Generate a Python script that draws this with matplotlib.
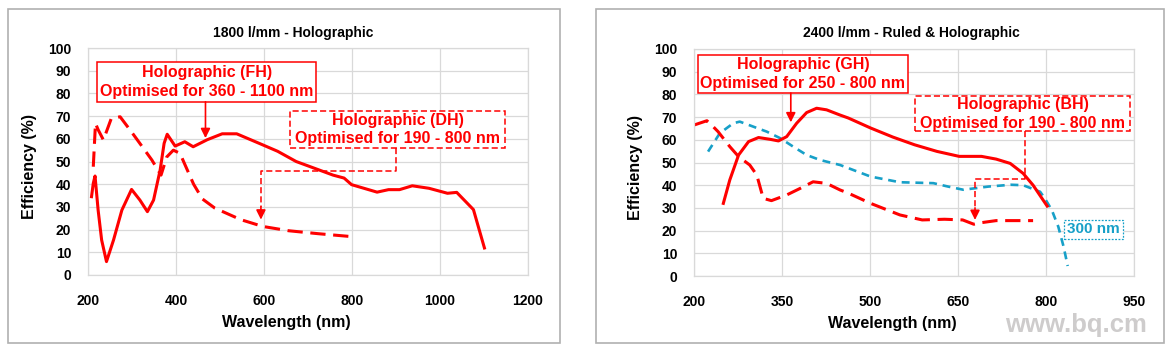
import numpy as np
import matplotlib
matplotlib.use('Agg')
import matplotlib.pyplot as plt
from matplotlib.patches import Rectangle

plt.rcParams['font.family'] = ['Liberation Sans', 'DejaVu Sans']
plt.rcParams['font.weight'] = 'bold'

# 1800 l/mm - Holographic
fhWl = [208, 212, 216, 223, 231, 242, 258, 277, 299, 318, 335, 349, 364, 373, 380, 398, 420, 439,
        471, 505, 538, 589, 631, 673, 715, 757, 782, 799, 857, 883, 908, 937, 975, 1017, 1038, 1076, 1101]
fhEff = [34.5, 40.4, 43.6, 28.6, 15.4, 5.9, 15.4, 28.6, 37.7, 33, 27.9, 33, 46.3, 58, 62, 56.8, 58.7, 56.5,
         59.6, 62.2, 62.2, 58, 54.5, 50, 47, 44, 42.7, 39.8, 36.5, 37.6, 37.6, 39.3, 38.2, 36, 36.4, 28.8, 11.9]
dhWl = [212, 217, 223, 235, 253, 273, 299, 326, 345, 366, 379, 394, 409, 424, 440, 460, 488, 547, 597, 656, 723, 794]
dhEff = [47.7, 66.8, 64, 59.5, 69, 69.7, 63, 55.8, 50.7, 44, 52, 55, 53.6, 47, 40, 33.5, 29.5, 24.4, 21.4, 19.5, 18.2, 17]

# 2400 l/mm - Ruled & Holographic
ghWl = [250, 261, 276, 293, 310, 330, 344, 358, 375, 392, 409, 426, 449, 463, 501, 539, 576, 614, 652, 690,
        715, 739, 761, 778, 802]
ghEff = [32, 42.3, 53.3, 59.2, 61, 60.2, 59.5, 61.4, 67.3, 72, 73.9, 73.2, 70.9, 69.6, 65.2, 61.2, 57.8, 54.9,
         52.7, 52.7, 51.5, 49.6, 45.2, 40, 30.8]
bhWl = [200, 222, 230, 241, 261, 276, 295, 307, 318, 332, 358, 381, 403, 426, 449, 463, 501, 551, 589, 627,
        658, 677, 690, 715, 778]
bhEff = [66.5, 68.4, 66.5, 63.6, 57, 52.6, 48.9, 44.5, 34.2, 33.2, 35.7, 38.6, 41.5, 40.8, 37.9, 36.5, 32, 26.9,
         24.7, 25, 24.7, 22.8, 23.5, 24.4, 24.4]
ruledWl = [224, 244, 267, 278, 301, 324, 347, 369, 392, 415, 449, 501, 551, 608, 633, 659, 702, 740, 761, 790,
           798, 810, 821, 830, 837]
ruledEff = [54.8, 62.9, 67.3, 68, 65.8, 63.6, 60.7, 57, 53.3, 51.1, 48.9, 43.8, 41.3, 40.9, 39.4, 38, 39.4,
            40.2, 40, 37.1, 34.2, 29, 21.7, 12.9, 4.4]

yTicks = list(range(0, 101, 10))
xTicksLeft = [200, 400, 600, 800, 1000, 1200]
xTicksRight = [200, 350, 500, 650, 800, 950]

RED = '#ff0000'
BLUE = '#17a0c8'
GRID = '#d9d9d9'

fig = plt.figure(figsize=(11.69, 3.48), dpi=100)

# panel frames
for x0, x1 in [(8, 560), (596, 1164)]:
    fig.patches.append(Rectangle((x0 / 1169, 5 / 348), (x1 - x0) / 1169, (341 - 7) / 348,
                                 transform=fig.transFigure, fill=False, ec='#b0b0b0', lw=1.2))

axL = fig.add_axes([88 / 1169, 1 - 275 / 348, 440 / 1169, 227 / 348])
axR = fig.add_axes([694 / 1169, 1 - 276 / 348, 440 / 1169, 227 / 348])


def styleAxes(ax, xticks):
    ax.set_xlim(xticks[0], xticks[-1])
    ax.set_ylim(0, 100)
    ax.set_xticks(xticks)
    ax.set_yticks(yTicks)
    ax.grid(True, color=GRID, lw=0.9)
    ax.set_axisbelow(True)
    for s in ax.spines.values():
        s.set_color(GRID)
        s.set_linewidth(0.9)
    ax.tick_params(length=0, labelsize=10)
    ax.tick_params(axis='y', pad=12)
    ax.tick_params(axis='x', pad=14)
    for lab in ax.get_xticklabels() + ax.get_yticklabels():
        lab.set_fontweight('bold')
    ax.set_xlabel('Wavelength (nm)', fontsize=11.5, fontweight='bold')
    ax.set_ylabel('Efficiency (%)', fontsize=11.5, fontweight='bold')
    ax.xaxis.set_label_coords(0.45, -0.178)
    ax.yaxis.set_label_coords(-0.117, 0.48)


def labelBox(ax, x0, x1, y0, y1, lines, ys, dashed, color=RED, size=11.5):
    ls = (0, (4, 2)) if dashed else '-'
    ax.add_patch(Rectangle((x0, y0), x1 - x0, y1 - y0, fc='white', ec=color, lw=1.1, ls=ls, zorder=5))
    for txt, y in zip(lines, ys):
        ax.text((x0 + x1) / 2, y, txt, color=color, fontsize=size, fontweight='bold',
                ha='center', va='center', zorder=6)


def arrowHead(ax, x, yFrom, yTo):
    ax.annotate('', xy=(x, yTo), xytext=(x, yFrom),
                arrowprops=dict(arrowstyle='-|>', color=RED, lw=1.2, mutation_scale=14,
                                shrinkA=0, shrinkB=0), zorder=6)


# left chart
styleAxes(axL, xTicksLeft)
axL.plot(fhWl, fhEff, color=RED, lw=2.2)
axL.plot(dhWl, dhEff, color=RED, lw=2.2, dashes=(5, 2.5))
labelBox(axL, 220, 719, 76.3, 94, ['Holographic (FH)', 'Optimised for 360 - 1100 nm'], [89, 81], False)
arrowHead(axL, 467, 76.3, 60.3)
labelBox(axL, 660, 1147, 55.9, 72.4, ['Holographic (DH)', 'Optimised for 190 - 800 nm'], [68, 60], True)
axL.plot([901, 901, 593, 593], [55.9, 45.6, 45.6, 30], color=RED, lw=1.1, ls=(0, (4, 2)))
arrowHead(axL, 593, 30, 24.4)

# right chart
styleAxes(axR, xTicksRight)
axR.plot(ruledWl, ruledEff, color=BLUE, lw=1.9, dashes=(3, 2.2))
axR.plot(bhWl, bhEff, color=RED, lw=2.2, dashes=(5, 2.5))
axR.plot(ghWl, ghEff, color=RED, lw=2.2)
labelBox(axR, 206, 565, 80.6, 97.5, ['Holographic (GH)', 'Optimised for 250 - 800 nm'], [93, 85], False)
arrowHead(axR, 365, 80.6, 67.7)
labelBox(axR, 577, 944, 63.7, 79.4, ['Holographic (BH)', 'Optimised for 190 - 800 nm'], [75.5, 67.2], True)
axR.plot([764, 764, 679, 679], [63.7, 42.7, 42.7, 30], color=RED, lw=1.1, ls=(0, (4, 2)))
arrowHead(axR, 679, 30, 24.7)
axR.add_patch(Rectangle((830, 16.3), 102, 8.4, fc='white', ec=BLUE, lw=0.9, ls=(0, (1.5, 1.2)), zorder=5))
axR.text(881, 20.5, '300 nm', color=BLUE, fontsize=11, fontweight='bold', ha='center', va='center', zorder=6)

fig.text(293 / 1169, 1 - 33 / 348, '1800 l/mm - Holographic', fontsize=10, fontweight='bold',
         ha='center', va='center')
fig.text(911 / 1169, 1 - 33 / 348, '2400 l/mm - Ruled & Holographic', fontsize=10, fontweight='bold',
         ha='center', va='center')

fig.text(1076 / 1169, 1 - 325 / 348, 'www.bq.cm', fontsize=18.5, fontweight='bold', color='#cecccc',
         ha='center', va='center')

fig.savefig('out.png', dpi=100)
